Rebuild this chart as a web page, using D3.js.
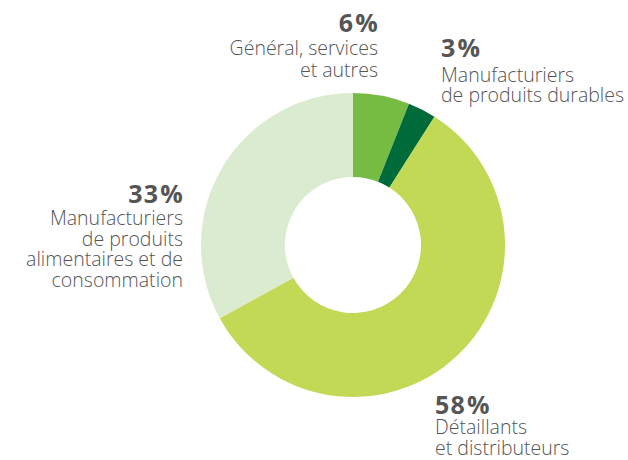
<!DOCTYPE html>
<html><head><meta charset="utf-8">
<script src="https://cdn.jsdelivr.net/npm/d3@7"></script>
<style>body{margin:0;background:#fff}</style>
</head><body>
<svg id="chart" width="628" height="460"></svg>
<script>
const categories = ["Général, services et autres", "Manufacturiers de produits durables", "Détaillants et distributeurs", "Manufacturiers de produits alimentaires et de consommation"];
const values = [6, 3, 58, 33];
const colors = ["#76bc43", "#006b3a", "#c1d955", "#dbebcf"];
const labelLines = [["Général, services", "et autres"], ["Manufacturiers", "de produits durables"], ["Détaillants", "et distributeurs"], ["Manufacturiers", "de produits", "alimentaires et de", "consommation"]];
const pctLabels = ["6%", "3%", "58%", "33%"];

const svg = d3.select("#chart");
const cx = 353, cy = 245, rOuter = 152, rInner = 68;
const pie = d3.pie().sort(null).value(d => d);
const arc = d3.arc().innerRadius(rInner).outerRadius(rOuter);
const g = svg.append("g").attr("transform", `translate(${cx},${cy})`);
g.selectAll("path").data(pie(values)).join("path")
  .attr("d", arc).attr("fill", (d, i) => colors[i]);

// label placements: [x, pctBaseline, anchor, firstLineOffset, lineStep]
const placements = [[378, 32, "end", 23, 21.5], [441, 57, "start", 24.5, 20], [435, 414, "start", 20, 20.5], [183, 202.5, "end", 22.5, 20.7]];
const font = "'Open Sans', sans-serif";
placements.forEach((p, i) => {
  const t = svg.append("text").attr("text-anchor", p[2])
    .attr("font-family", font).attr("fill", "#555555");
  const pct = t.append("tspan").attr("x", p[2] === "end" ? p[0] + 1 : p[0]).attr("y", p[1])
    .attr("font-weight", 700).attr("font-size", 25).attr("letter-spacing", 1.2);
  pct.append("tspan").text(pctLabels[i].slice(0, -1));
  pct.append("tspan").attr("dx", 1).text("%");
  labelLines[i].forEach((line, j) => {
    t.append("tspan").attr("x", p[0]).attr("y", p[1] + p[3] + j * p[4])
      .attr("font-weight", 300).attr("font-size", 19.5).text(line);
  });
});
</script>
</body></html>
